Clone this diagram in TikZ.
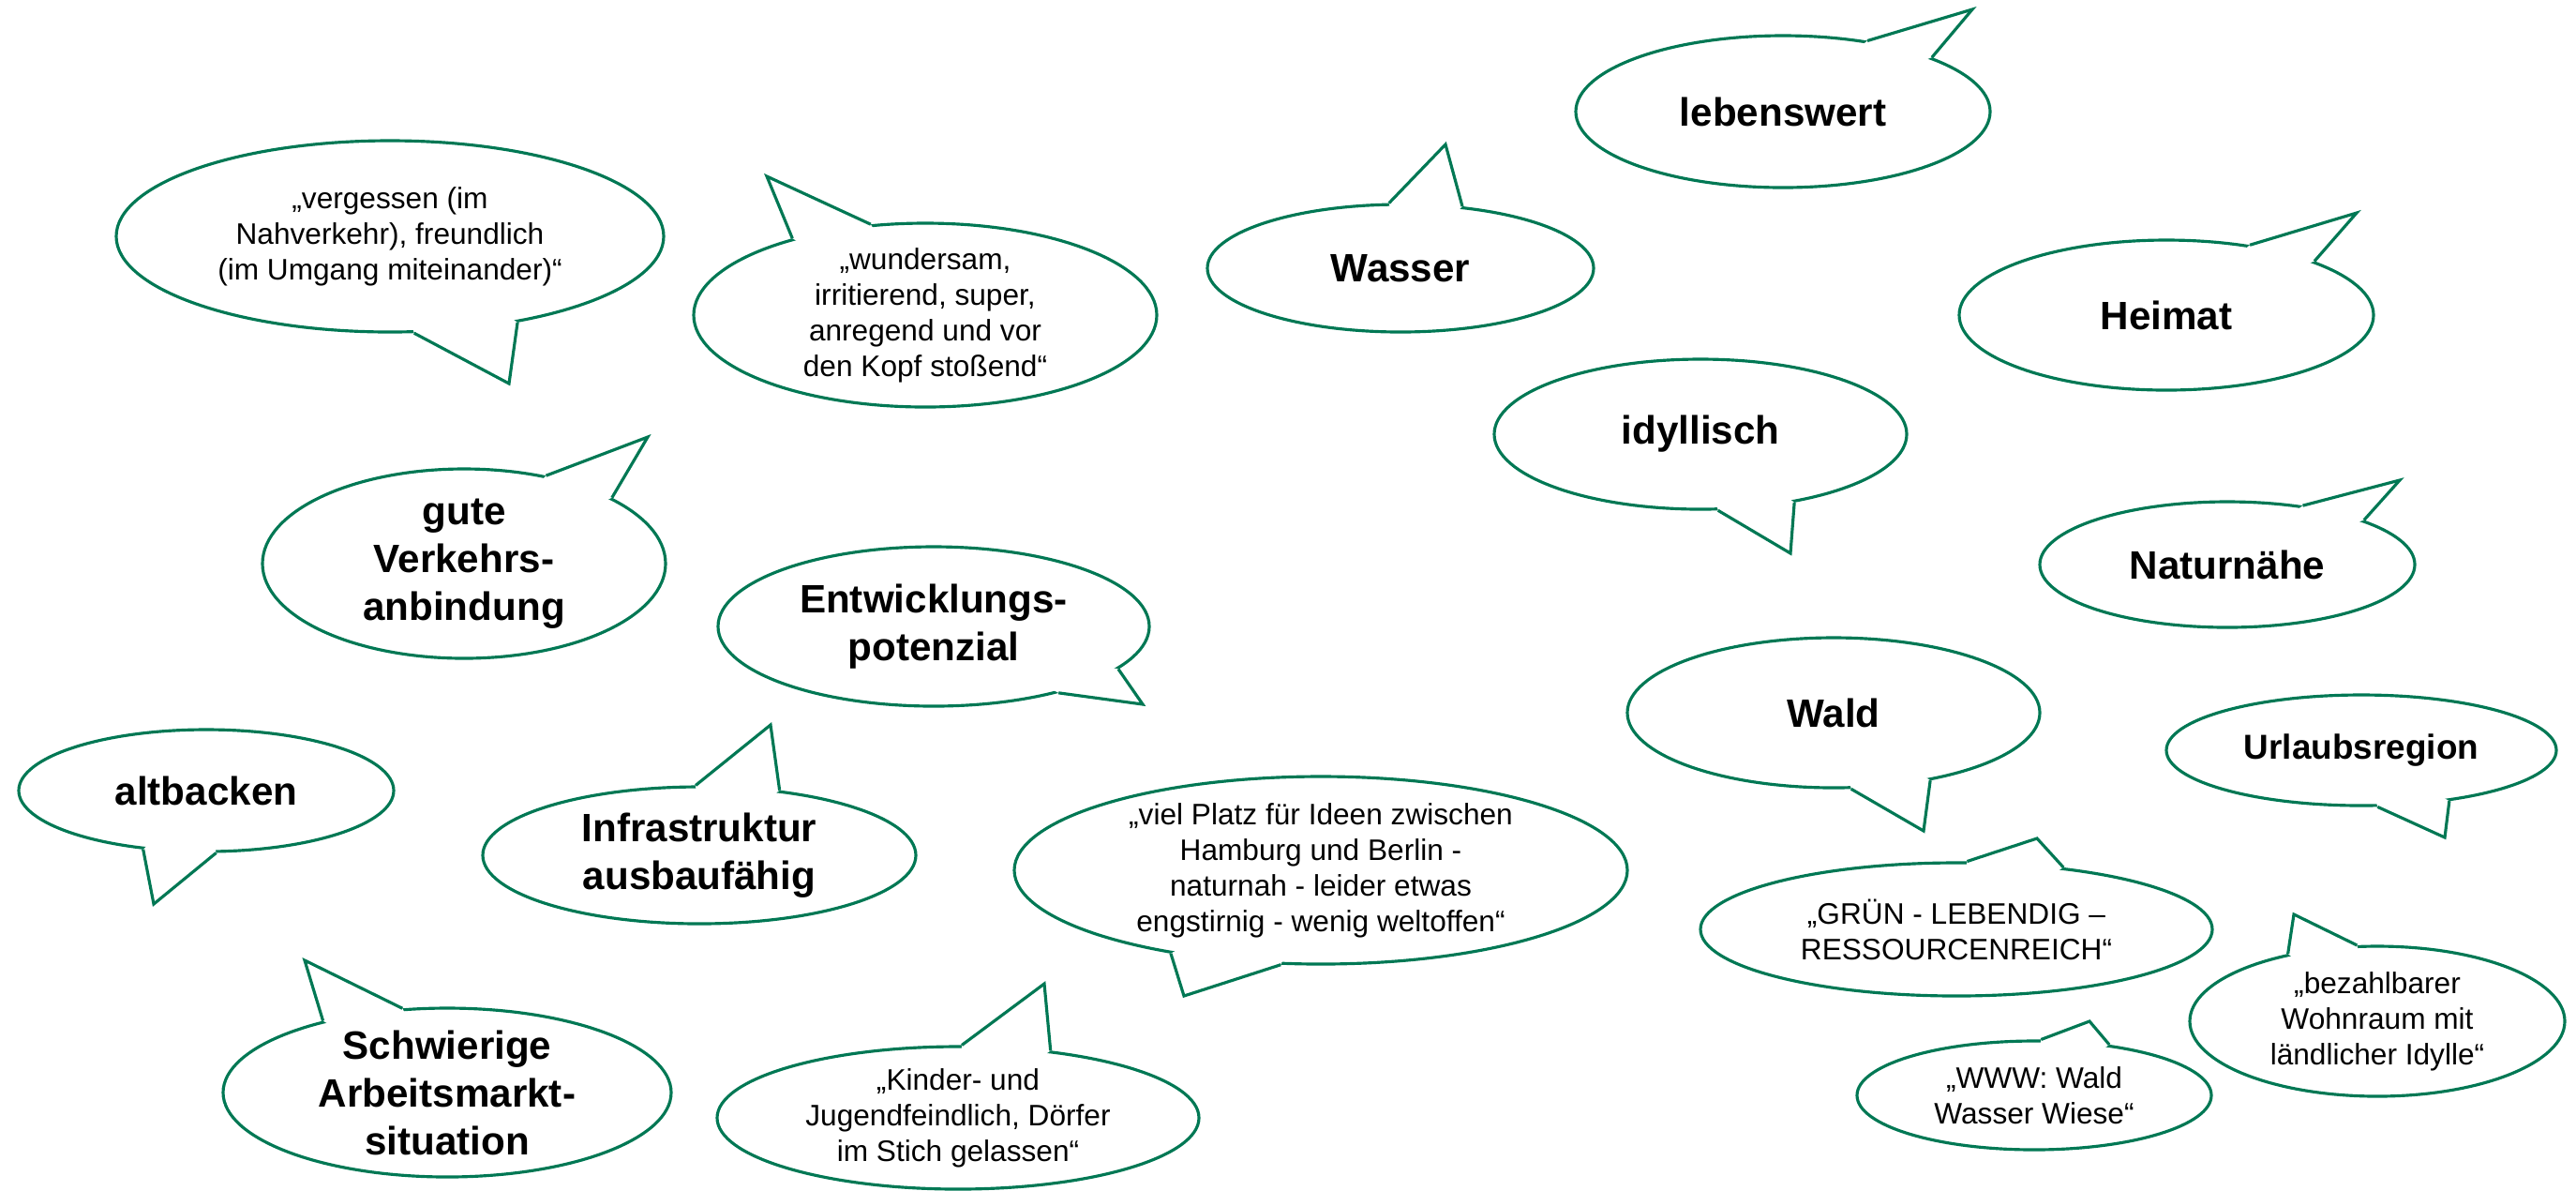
\documentclass[tikz,border=0pt]{standalone}
\usepackage{fontspec}
\setmainfont{Liberation Sans}
\usepackage{xcolor}
\usepackage{tikz}
\usetikzlibrary{shapes.geometric,calc}
\definecolor{bubblegreen}{RGB}{0,120,84}
\tikzset{
  bubble/.style={ellipse, draw=bubblegreen, line width=0.9pt, fill=white, inner sep=-4mm, align=center},
  quote/.style={bubble, font=\fontsize{9}{10.8}\selectfont},
  keyword/.style={bubble, font=\fontsize{12}{14.5}\selectfont\bfseries},
  tail/.style={draw=bubblegreen, line width=0.9pt, line join=miter}
}
% tail of a bubble: node, first angle, tip, second angle
\newcommand{\bubbletail}[4]{%
  \fill[white] (#1.#2) -- (#3) -- (#1.#4) -- ($(#1.#4)!0.15!(#1.center)$) -- ($(#1.#2)!0.15!(#1.center)$) -- cycle;
  \draw[tail] (#1.#2) -- (#3) -- (#1.#4);}

\begin{document}
\begin{tikzpicture}[x=1cm,y=-1cm]
\useasboundingbox (0,0) rectangle (27.48,12.69);
% left column
\node[quote,minimum width=5.84cm,minimum height=2.04cm] (vergessen) at (4.16,2.52) {„vergessen (im\\Nahverkehr), freundlich\\(im Umgang miteinander)“};
\bubbletail{vergessen}{-76.6}{5.43,4.09}{-34.5}
\node[quote,minimum width=4.94cm,minimum height=1.96cm] (wundersam) at (9.87,3.36) {„wundersam,\\irritierend, super,\\anregend und vor\\den Kopf stoßend“};
\bubbletail{wundersam}{150.6}{8.18,1.88}{121.7}
\node[keyword,minimum width=4.30cm,minimum height=2.02cm] (verkehr) at (4.95,6.01) {gute\\Verkehrs-\\anbindung};
\bubbletail{verkehr}{47.6}{6.91,4.66}{24.7}
\node[keyword,minimum width=4.60cm,minimum height=1.70cm] (entwicklung) at (9.96,6.68) {Entwicklungs-\\potenzial};
\bubbletail{entwicklung}{-28.6}{12.19,7.51}{-13.9}
\node[keyword,minimum width=4.00cm,minimum height=1.30cm] (altbacken) at (2.20,8.43) {altbacken};
\bubbletail{altbacken}{-137.7}{1.64,9.64}{-81.1}
\node[keyword,minimum width=4.62cm,minimum height=1.46cm] (infra) at (7.46,9.12) {Infrastruktur\\ausbaufähig};
\bubbletail{infra}{93.2}{8.22,7.73}{39.7}
\node[keyword,minimum width=4.78cm,minimum height=1.80cm] (arbeit) at (4.77,11.65) {Schwierige\\Arbeitsmarkt-\\situation};
\bubbletail{arbeit}{150.3}{3.25,10.24}{118.3}
\node[quote,minimum width=5.14cm,minimum height=1.52cm] (kinder) at (10.22,11.92) {„Kinder- und\\Jugendfeindlich, Dörfer\\im Stich gelassen“};
\bubbletail{kinder}{87.8}{11.14,10.49}{36.1}
% middle
\node[keyword,minimum width=4.12cm,minimum height=1.36cm] (wasser) at (14.94,2.86) {Wasser};
\bubbletail{wasser}{100.8}{15.42,1.54}{45}
\node[quote,minimum width=6.54cm,minimum height=2.00cm] (platz) at (14.09,9.28) {„viel Platz für Ideen zwischen\\Hamburg und Berlin -\\naturnah - leider etwas\\engstirnig - wenig weltoffen“};
\bubbletail{platz}{-151.5}{12.63,10.62}{-113}
\node[keyword,minimum width=4.42cm,minimum height=1.62cm] (lebenswert) at (19.02,1.19) {lebenswert};
\bubbletail{lebenswert}{40.8}{21.04,0.10}{20}
\node[keyword,minimum width=4.40cm,minimum height=1.60cm] (idyllisch) at (18.14,4.63) {idyllisch};
\bubbletail{idyllisch}{-77.3}{19.10,5.90}{-36}
\node[keyword,minimum width=4.40cm,minimum height=1.60cm] (wald) at (19.56,7.60) {Wald};
\bubbletail{wald}{-77.2}{20.52,8.86}{-35.7}
\node[quote,minimum width=5.46cm,minimum height=1.42cm] (gruen) at (20.87,9.91) {„GRÜN - LEBENDIG –\\RESSOURCENREICH“};
\bubbletail{gruen}{81.2}{21.73,8.94}{30.2}
\node[quote,minimum width=3.78cm,minimum height=1.16cm] (www) at (21.70,11.68) {„WWW: Wald\\Wasser Wiese“};
\bubbletail{www}{83.1}{22.29,10.89}{34.4}
% right column
\node[keyword,minimum width=4.42cm,minimum height=1.60cm] (heimat) at (23.11,3.36) {Heimat};
\bubbletail{heimat}{40.4}{25.14,2.27}{20}
\node[keyword,minimum width=4.00cm,minimum height=1.34cm] (naturnaehe) at (23.76,6.02) {Naturnähe};
\bubbletail{naturnaehe}{38.2}{25.60,5.12}{18.6}
\node[keyword,font=\fontsize{10.5}{12.6}\selectfont\bfseries,minimum width=4.16cm,minimum height=1.18cm] (urlaub) at (25.19,8.00) {Urlaubsregion};
\bubbletail{urlaub}{-74.8}{26.08,8.93}{-30}
\node[quote,minimum width=4.00cm,minimum height=1.60cm] (wohnraum) at (25.36,10.89) {„bezahlbarer\\Wohnraum mit\\ländlicher Idylle“};
\bubbletail{wohnraum}{143.6}{24.47,9.75}{105.4}
\end{tikzpicture}
\end{document}
